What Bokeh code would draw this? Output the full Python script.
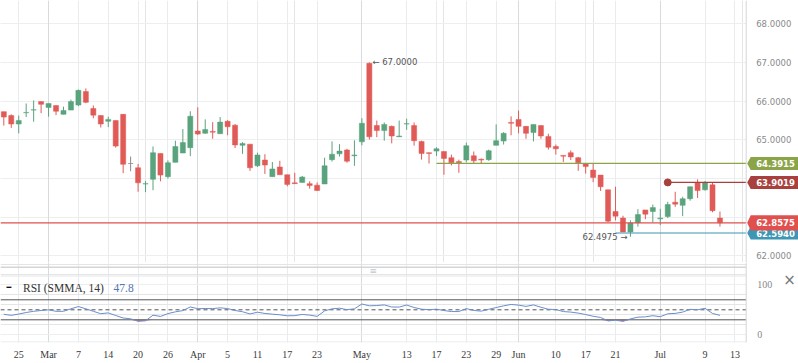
import numpy as np
from bokeh.plotting import figure
from bokeh.layouts import column
from bokeh.models import Range1d, FixedTicker, Span, Grid, ColumnDataSource
from bokeh.embed import file_html
from bokeh.resources import INLINE
from bokeh.core.properties import value

# ---------------- data (daily candles, trading-day index 1..97) ----------------
opens = [65.73, 65.63, 65.41, 65.70, 65.77, 65.99, 65.84, 65.89, 65.66, 65.77,
         65.90, 66.25, 65.81, 65.63, 65.48, 65.50, 65.66, 64.39, 64.28, 63.86,
         63.98, 64.65, 64.05, 64.42, 64.66, 64.80, 65.23, 65.17, 65.22, 65.16,
         65.48, 65.38, 64.86, 64.89, 64.33, 64.48, 64.05, 64.30, 64.10, 63.89,
         63.90, 63.87, 63.83, 63.86, 64.49, 64.64, 64.74, 64.59, 64.95, 66.98,
         65.37, 65.24, 65.35, 65.08, 65.41, 65.37, 64.96, 64.67, 64.71, 64.70,
         64.54, 64.44, 64.48, 64.59, 64.50, 64.49, 64.86, 64.97, 65.45, 65.53,
         65.35, 65.19, 65.37, 65.09, 64.83, 64.60, 64.67, 64.54, 64.39, 64.22,
         64.09, 63.71, 63.15, 62.98, 62.62, 62.86, 63.19, 63.15, 62.96, 63.02,
         63.39, 63.31, 63.48, 63.90, 63.71, 63.84, 62.98]
highs = [65.73, 65.66, 65.63, 65.94, 66.02, 65.99, 65.94, 65.89, 65.86, 66.04,
         66.30, 66.33, 65.89, 65.63, 65.60, 65.50, 65.66, 64.57, 64.38, 63.94,
         64.83, 64.65, 64.47, 64.98, 65.28, 65.74, 65.84, 65.53, 65.46, 65.59,
         65.51, 65.41, 64.94, 64.89, 64.67, 64.63, 64.43, 64.46, 64.10, 64.15,
         64.07, 63.93, 63.90, 64.54, 64.96, 64.89, 64.77, 64.99, 65.56, 67.00,
         65.50, 65.45, 65.37, 65.50, 65.55, 65.45, 64.98, 64.67, 64.81, 64.70,
         64.62, 64.49, 64.93, 64.70, 64.52, 64.75, 65.40, 65.20, 65.61, 65.76,
         65.35, 65.40, 65.37, 65.16, 64.88, 64.60, 64.73, 64.56, 64.39, 64.39,
         64.09, 63.71, 63.79, 63.04, 62.92, 63.21, 63.19, 63.33, 63.22, 63.40,
         63.66, 63.53, 63.79, 63.98, 63.94, 63.90, 63.15]
lows = [65.37, 65.31, 65.17, 65.59, 65.47, 65.69, 65.60, 65.64, 65.66, 65.77,
        65.87, 65.95, 65.56, 65.32, 65.33, 64.80, 64.14, 64.19, 63.66, 63.65,
        63.70, 63.93, 64.00, 64.42, 64.66, 64.58, 65.13, 65.16, 65.03, 65.16,
        65.12, 64.79, 64.64, 64.20, 64.30, 64.12, 64.05, 64.10, 63.80, 63.87,
        63.90, 63.74, 63.68, 63.86, 64.44, 64.57, 64.41, 64.33, 64.86, 65.01,
        65.07, 64.98, 64.91, 65.08, 65.26, 64.85, 64.49, 64.39, 64.58, 64.10,
        64.34, 64.15, 64.42, 64.39, 64.38, 64.46, 64.86, 64.88, 65.12, 65.17,
        65.03, 64.96, 65.03, 64.75, 64.62, 64.43, 64.48, 64.20, 64.13, 63.91,
        63.68, 62.87, 62.92, 62.62, 62.4975, 62.76, 62.95, 62.87, 62.80, 62.98,
        63.27, 63.03, 63.43, 63.50, 63.69, 63.13, 62.76]
closes = [65.59, 65.41, 65.50, 65.71, 65.78, 65.92, 65.94, 65.74, 65.76, 65.99,
          66.28, 65.97, 65.64, 65.41, 65.53, 64.84, 64.37, 64.39, 63.89, 63.87,
          64.67, 64.09, 64.41, 64.83, 64.93, 65.61, 65.15, 65.27, 65.20, 65.46,
          65.34, 64.87, 64.91, 64.28, 64.61, 64.35, 64.25, 64.10, 63.85, 63.87,
          64.04, 63.82, 63.69, 64.33, 64.63, 64.71, 64.45, 64.61, 65.43, 65.08,
          65.24, 65.40, 65.10, 65.10, 65.42, 64.98, 64.65, 64.65, 64.77, 64.52,
          64.41, 64.41, 64.85, 64.46, 64.48, 64.72, 64.98, 65.17, 65.43, 65.35,
          65.17, 65.40, 65.10, 64.81, 64.77, 64.58, 64.56, 64.41, 64.31, 64.03,
          63.79, 62.90, 63.03, 62.62, 62.85, 63.07, 63.08, 63.25, 62.98, 63.33,
          63.34, 63.48, 63.79, 63.69, 63.89, 63.17, 62.8575]
rsi = [41.0, 38.9, 41.5, 44.6, 47.0, 48.6, 50.0, 47.0, 47.0, 52.0,
       56.5, 52.0, 47.0, 42.2, 43.8, 38.6, 33.6, 32.0, 27.0, 28.0,
       39.3, 36.7, 42.4, 45.9, 48.4, 55.7, 52.2, 52.6, 52.4, 53.9,
       52.5, 48.6, 46.1, 41.7, 45.2, 42.7, 41.3, 40.0, 38.0, 38.3,
       40.7, 39.4, 36.8, 47.8, 51.9, 53.2, 50.2, 52.0, 61.6, 58.0,
       58.5, 59.8, 55.6, 55.5, 59.5, 54.6, 51.2, 50.2, 51.2, 48.6,
       46.5, 46.5, 52.4, 48.7, 47.3, 51.0, 54.5, 57.9, 60.7, 59.3,
       56.8, 59.8, 55.1, 51.1, 50.5, 46.5, 45.4, 43.4, 40.5, 37.1,
       34.7, 27.7, 29.2, 26.9, 31.8, 35.3, 35.9, 38.2, 36.2, 42.0,
       42.8, 45.4, 51.0, 50.0, 53.0, 42.7, 38.9]

tick_pos = [3, 7, 11, 15, 19, 23, 27, 31, 35, 39, 43, 49, 55, 59, 63, 67, 70, 75, 79, 83, 89, 95, 99]
tick_labels = ["25", "Mar", "7", "14", "20", "26", "Apr", "5", "11", "17", "23", "May",
               "13", "17", "23", "29", "Jun", "10", "17", "21", "Jul", "9", "13"]
month_pos = [7, 27, 49, 70, 89]
price_grid = [62, 63, 64, 65, 66, 67, 68]
price_labels_at = [62, 65, 66, 67, 68]
rsi_ticks = [0, 100]
rsi_levels = [30, 50, 70]
rsi_legend = "RSI (SMMA, 14)"
rsi_value = "47.8"

# drawn horizontal levels: value, starting candle
level_values = [64.3915, 63.9019, 62.5940]
level_starts = [59, 90, 83]
last_price = closes[-1]

# ---------------- styling / geometry ----------------
GREEN = "#59a37d"
RED = "#e05b57"
GRAY = "#8a8a8a"
LEVEL_COLORS = ["#8ba447", "#a8403d", "#3c96b4"]
LAST_COLOR = "#e0504e"
DAY_GRID = "#e9ecef"
MONTH_GRID = "#d8dbde"
EDGE = "#d3d6d9"
W = 798
PPI = 7.46          # pixels per candle
X0 = 0.557
PLOT_W = 745.7      # width of the chart area (price scale to its right)
xr = Range1d(X0, X0 + W / PPI)
plot_end = X0 + PLOT_W / PPI
PPU = 38.7          # pixels per price unit
Y_TOP = 68.602
H1 = 262
yr1 = Range1d(Y_TOP - H1 / PPU, Y_TOP)

idx = np.arange(1, len(opens) + 1)
o = np.array(opens); c = np.array(closes)
colors = [GREEN if cc > oo else (RED if cc < oo else GRAY) for oo, cc in zip(opens, closes)]
src = ColumnDataSource(dict(x=idx, o=o, c=c, h=highs, l=lows,
                            top=np.maximum(o, c), bottom=np.minimum(o, c), color=colors))

# ---------------- price panel ----------------
p1 = figure(width=W, height=H1, x_range=xr, y_range=yr1, x_axis_location=None,
            y_axis_location=None, toolbar_location=None, output_backend="svg",
            min_border=0)
p1.outline_line_color = None
p1.add_layout(Grid(dimension=1, ticker=FixedTicker(ticks=price_grid), grid_line_color="#eceef0"))
p1.add_layout(Grid(dimension=0, ticker=FixedTicker(ticks=tick_pos), grid_line_color=DAY_GRID))
p1.add_layout(Grid(dimension=0, ticker=FixedTicker(ticks=month_pos), grid_line_color=MONTH_GRID))

p1.segment(x0="x", y0="h", x1="x", y1="l", color="color", line_width=1, source=src)
p1.vbar(x="x", top="top", bottom="bottom", width=0.68, fill_color="color",
        line_color="color", line_width=0.5, source=src)

# price scale area (right of the chart)
p1.quad(left=[plot_end], right=[xr.end], bottom=[yr1.start], top=[yr1.end],
        fill_color="white", line_color=None)

# drawn level lines
for val, st, col in zip(level_values, level_starts, LEVEL_COLORS):
    p1.segment(x0=[st], y0=[val], x1=[plot_end], y1=[val], color=col, line_width=1.2)
p1.scatter(x=[level_starts[1]], y=[level_values[1]], size=7, color=LEVEL_COLORS[1])
p1.segment(x0=[xr.start], y0=[last_price], x1=[plot_end], y1=[last_price],
           color=LAST_COLOR, line_width=1.2)

# price scale labels
p1.text(x=[plot_end] * len(price_labels_at), y=price_labels_at,
        text=["%.4f" % v for v in price_labels_at], x_offset=10,
        text_baseline="middle", text_align="left", text_font=value("DejaVu Sans"),
        text_font_size="8.5px", text_color="#8a8a8a")

# price badges (last price drawn last, slightly taller, overlapping the teal one)
badges = [(level_values[2], LEVEL_COLORS[2], 6.5), (level_values[0], LEVEL_COLORS[0], 6.5),
          (level_values[1], LEVEL_COLORS[1], 6.5), (last_price, LAST_COLOR, 7.6)]
for val, col, half_px in badges:
    hh = half_px / PPU
    xs = [plot_end + 1 / PPI, plot_end + 4.5 / PPI, xr.end, xr.end, plot_end + 4.5 / PPI]
    ys = [val, val + hh, val + hh, val - hh, val - hh]
    p1.patch(x=xs, y=ys, fill_color=col, line_color=None)
    p1.text(x=[plot_end], y=[val], text=["%.4f" % val], x_offset=10,
            text_baseline="middle", text_align="left", text_font=value("DejaVu Sans"),
            text_font_size="8.5px", text_font_style="bold", text_color="white")

p1.add_layout(Span(location=plot_end, dimension="height", line_color=EDGE, line_width=1))

# high / low annotations
hi_i = int(np.argmax(highs)); lo_i = int(np.argmin(lows))
p1.text(x=[idx[hi_i]], y=[highs[hi_i]], text=["\u2190 %.4f" % highs[hi_i]], x_offset=3,
        text_baseline="middle", text_align="left", text_font=value("DejaVu Sans"),
        text_font_size="8.5px", text_color="#555555")
p1.text(x=[idx[lo_i]], y=[lows[lo_i]], text=["%.4f \u2192" % lows[lo_i]], x_offset=-3,
        text_baseline="middle", text_align="right", text_font=value("DejaVu Sans"),
        text_font_size="8.5px", text_color="#555555")

# ---------------- RSI panel (incl. the gap below the price pane) ----------------
RPU = 0.5           # pixels per RSI point
R_TOP = 144.6
H2_FRAME = 80
yr2 = Range1d(R_TOP - H2_FRAME / RPU, R_TOP)
p2 = figure(width=W, height=H2_FRAME + 21, x_range=xr, y_range=yr2, y_axis_location=None,
            toolbar_location=None, output_backend="svg",
            min_border_left=0, min_border_right=0, min_border_top=0, min_border_bottom=21)
p2.outline_line_color = None
p2.xaxis.ticker = FixedTicker(ticks=tick_pos)
p2.xaxis.major_label_overrides = {t: l for t, l in zip(tick_pos, tick_labels)}
p2.xaxis.major_label_text_font = "Liberation Serif"
p2.xaxis.major_label_text_font_size = "10px"
p2.xaxis.major_label_text_color = "#3a3a3a"
p2.xaxis.axis_line_color = None
p2.xaxis.major_tick_line_color = None
p2.xaxis.minor_tick_line_color = None
p2.xaxis.major_tick_out = 0
p2.xaxis.major_label_standoff = 6
p2.xgrid.grid_line_color = DAY_GRID
p2.add_layout(Grid(dimension=0, ticker=FixedTicker(ticks=month_pos), grid_line_color=MONTH_GRID))
p2.add_layout(Grid(dimension=1, ticker=FixedTicker(ticks=rsi_ticks), grid_line_color="#eceef0"))

r = np.array(rsi)
p2.varea(x=idx, y1=np.minimum(r, rsi_levels[0]), y2=rsi_levels[0], fill_color="#e0605c",
         fill_alpha=0.9)
for lvl, dash in zip(rsi_levels, ["solid", "4 3", "solid"]):
    p2.segment(x0=[xr.start], y0=[lvl], x1=[plot_end], y1=[lvl], color="#555555",
               line_width=1, line_dash=dash)
p2.line(x=idx, y=r, color="#6a8ecb", line_width=1)

p2.quad(left=[plot_end], right=[xr.end], bottom=[yr2.start], top=[yr2.end],
        fill_color="white", line_color=None)
# bottom edge of the price pane, top/bottom edges of the RSI pane
pane_bottom = R_TOP - 4.7 / RPU
rsi_top = R_TOP - 13.5 / RPU
rsi_bottom = yr2.start + 0.5 / RPU
p2.segment(x0=[xr.start], y0=[pane_bottom], x1=[plot_end], y1=[pane_bottom],
           color=EDGE, line_width=1.5)
p2.segment(x0=[xr.start, xr.start], y0=[rsi_top, rsi_bottom],
           x1=[plot_end, plot_end], y1=[rsi_top, rsi_bottom],
           color="#e3e6e9", line_width=1)
p2.add_layout(Span(location=plot_end, dimension="height", line_color=EDGE, line_width=1))

# pane resize handle and close icon
p2.text(x=[(xr.start + plot_end) / 2], y=[R_TOP - 8.5 / RPU], text=["\u2261"],
        text_baseline="middle", text_align="center", text_font=value("DejaVu Sans"),
        text_font_size="9px", text_color="#c4c7ca")
p2.text(x=[plot_end], y=[R_TOP - 17 / RPU], text=["\u00d7"], x_offset=37,
        text_baseline="middle", text_align="left", text_font=value("DejaVu Sans"),
        text_font_size="15px", text_color="#777777")

p2.text(x=[plot_end] * len(rsi_ticks), y=rsi_ticks, text=[str(t) for t in rsi_ticks],
        x_offset=11, text_baseline="middle", text_align="left",
        text_font=value("Liberation Serif"), text_font_size="10px", text_color="#888888")

leg_y = R_TOP - 25 / RPU
p2.text(x=[xr.start], y=[leg_y], text=["\u2501"], x_offset=6, text_baseline="middle",
        text_font=value("DejaVu Sans"), text_font_size="8px", text_color="#111111")
p2.text(x=[xr.start], y=[leg_y], text=[rsi_legend], x_offset=22.5, text_baseline="middle",
        text_font=value("Liberation Serif"), text_font_size="11.5px", text_color="#333333")
p2.text(x=[xr.start], y=[leg_y], text=[rsi_value], x_offset=113, text_baseline="middle",
        text_font=value("Liberation Serif"), text_font_size="11.5px", text_color="#4f74b3")

layout = column(p1, p2)
open("out.html", "w").write(file_html(layout, INLINE))
